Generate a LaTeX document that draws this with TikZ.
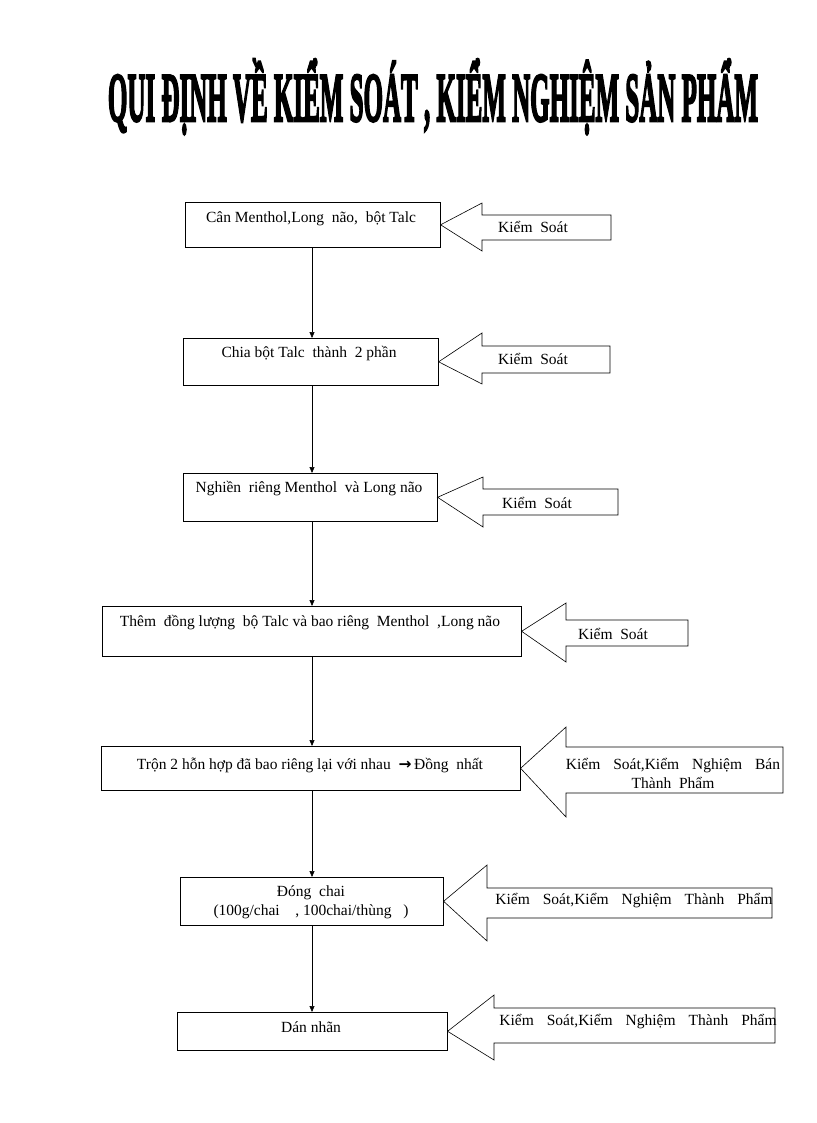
\documentclass[tikz,border=0pt]{standalone}
\usepackage{fontspec}
\setmainfont{Liberation Serif}
\newfontfamily\titlefont[FakeBold=4]{Liberation Serif}
\newfontfamily\arrowfont{DejaVu Sans}
\usetikzlibrary{arrows.meta}
\newcommand{\wsp}{\hspace{13pt}}
\tikzset{
  x=1pt, y=-1pt,
  stepbox/.style={draw, line width=0.6pt, inner sep=0pt},
  txt/.style={font=\fontsize{15.5}{19}\selectfont, inner sep=0pt, align=center},
  conn/.style={draw, line width=0.6pt, -{Triangle[length=6pt,width=5pt]}},
  blockarr/.style={draw, line width=0.6pt, line join=miter},
}
\newcommand{\boxat}[5]{% name, x1, y1, x2, y2
  \node[stepbox, minimum width={#4-#2}, minimum height={#5-#3}, anchor=north west] (#1) at (#2,#3) {};}
\newcommand{\blockarrow}[7]{% box name, head base x, head top, shaft top, shaft bottom, head bottom, right x
  \draw[blockarr] (#1.east) -- (#2,#3) -- (#2,#4) -- (#7,#4) -- (#7,#5) -- (#2,#5) -- (#2,#6) -- cycle;}
\begin{document}
\begin{tikzpicture}
\useasboundingbox (0,0) rectangle (816,1123);
% title
\node[inner sep=0pt, anchor=base] (title) at (433,121)
  {\resizebox{650pt}{62pt}{\titlefont\bfseries QUI ĐỊNH VỀ KIỂM SOÁT , KIỂM NGHIỆM SẢN PHẨM}};

% boxes
\boxat{b1}{185}{202}{440}{247}
\boxat{b2}{183}{338}{438}{385}
\boxat{b3}{183}{473}{437}{521}
\boxat{b4}{102}{606}{521}{656}
\boxat{b5}{101}{746}{520}{790}
\boxat{b6}{180}{877}{443}{925}
\boxat{b7}{177}{1012}{447}{1050}

% box texts
\node[txt] (t1) at (311,219) {Cân Menthol,Long\ \ não,\ \ bột Talc};
\node[txt] (t2) at (309,354) {Chia bột Talc\ \ thành\ \ 2 phần};
\node[txt] (t3) at (309,489) {Nghiền\ \ riêng\ Menthol\ \ và Long não};
\node[txt] (t4) at (310,623) {Thêm\ \ đồng lượng\ \ bộ\ Talc\ và bao riêng\ \ Menthol\ \ ,Long não};
\node[txt] (t5) at (310,765) {Trộn\ 2 hỗn hợp đã bao riêng\ lại với nhau\ \ {\arrowfont\bfseries →}\,Đồng\ \ nhất};
\node[txt] (t6) at (311,902) {Đóng\ \ chai\\(100g/chai\ \ \ \ , 100chai/thùng\ \ \ )};
\node[txt] (t7) at (311,1027) {Dán nhãn};

% connectors
\foreach \a/\b in {b1/b2,b2/b3,b3/b4,b4/b5,b5/b6,b6/b7}
  \draw[conn] (\a.south -| 312,0) -- (\b.north -| 312,0);

% block arrows
\blockarrow{b1}{482}{203}{215}{240}{251}{611}
\blockarrow{b2}{482}{333}{346}{373}{384}{610}
\blockarrow{b3}{483}{477}{489}{515}{527}{618}
\blockarrow{b4}{566}{603}{620}{646}{662}{688}
\blockarrow{b5}{566}{727}{747}{793}{817}{783}
\blockarrow{b6}{487}{865}{888}{918}{941}{772}
\blockarrow{b7}{494}{995}{1008}{1043}{1060}{775}

% arrow labels
\node[txt] (k1) at (533,227) {Kiểm\ \ Soát};
\node[txt] (k2) at (533,359) {Kiểm\ \ Soát};
\node[txt] (k3) at (537,503) {Kiểm\ \ Soát};
\node[txt] (k4) at (613,634) {Kiểm\ \ Soát};
\node[txt] (k5) at (673,773) {Kiểm\wsp Soát,Kiểm\wsp Nghiệm\wsp Bán\\Thành\ \ Phẩm};
\node[txt] (k6) at (634,901) {Kiểm\wsp Soát,Kiểm\wsp Nghiệm\wsp Thành\wsp Phẩm};
\node[txt] (k7) at (638,1022) {Kiểm\wsp Soát,Kiểm\wsp Nghiệm\wsp Thành\wsp Phẩm};
\end{tikzpicture}
\end{document}
